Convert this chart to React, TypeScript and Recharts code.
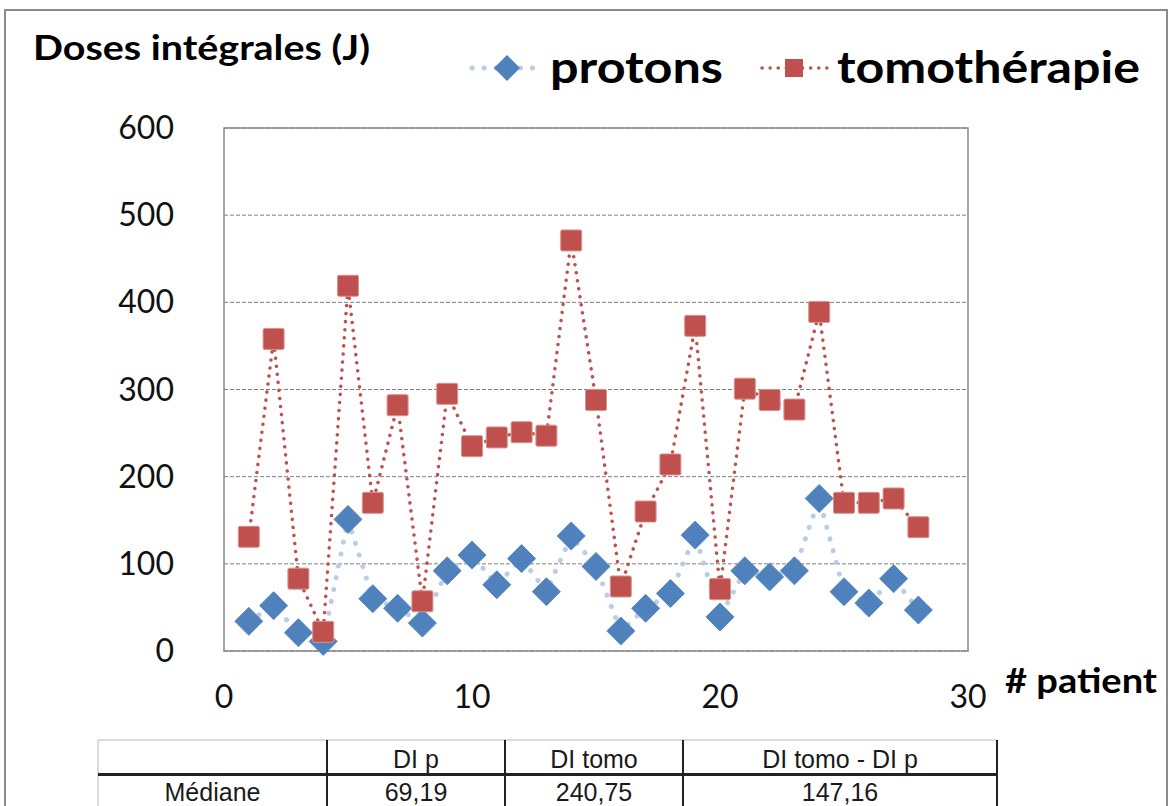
import React from "react";
import {
  LineChart,
  Line,
  XAxis,
  YAxis,
  CartesianGrid,
  ReferenceArea,
  Legend,
} from "recharts";

const patients = [
  1, 2, 3, 4, 5, 6, 7, 8, 9, 10, 11, 12, 13, 14, 15, 16, 17, 18, 19, 20, 21,
  22, 23, 24, 25, 26, 27, 28,
];
const protons = [
  34, 52, 21, 11, 151, 60, 49, 32, 92, 110, 76, 106, 68, 132, 97, 23, 49, 66,
  133, 39, 92, 85, 92, 175, 68, 55, 83, 47,
];
const tomo = [
  131, 358, 83, 22, 419, 170, 282, 57, 295, 235, 245, 251, 247, 471, 288, 74,
  160, 214, 373, 71, 301, 288, 277, 389, 170, 170, 175, 142,
];
const xTicks = [0, 10, 20, 30];
const yTicks = [0, 100, 200, 300, 400, 500, 600];

const tableHeader = ["", "DI p", "DI tomo", "DI tomo - DI p"];
const tableRow = ["Médiane", "69,19", "240,75", "147,16"];

const data = patients.map((p, i) => ({
  patient: p,
  protons: protons[i],
  tomo: tomo[i],
}));

const BLUE = "#4F81BD";
const BLUE_LINE = "#B9CDE8";
const RED = "#C0504D";

const diamond = (cx: number, cy: number, r: number) =>
  `M${cx},${cy - r}L${cx + r},${cy}L${cx},${cy + r}L${cx - r},${cy}Z`;

const DiamondDot = (p: any) => (
  <path key={`d${p.index}`} d={diamond(p.cx, p.cy, 14)} fill={BLUE} stroke="#5B8AC2" strokeWidth={1} />
);

const SquareDot = (p: any) => (
  <rect
    key={`s${p.index}`}
    x={p.cx - 10.5}
    y={p.cy - 10.5}
    width={21}
    height={21}
    rx={1.5}
    fill={RED}
    stroke="#D9918F"
    strokeWidth={1}
  />
);

const XTick = ({ x, y, payload }: any) => (
  <text x={x} y={y} dy={49} textAnchor="middle" fontFamily="Lato" fontSize={32} fill="#111">
    {payload.value}
  </text>
);

const YTick = ({ x, y, payload }: any) => (
  <text x={x} y={y} dx={-42} dy={11} textAnchor="end" fontFamily="Lato" fontSize={32} fill="#111">
    {payload.value}
  </text>
);

const LegendContent = () => (
  <svg width={700} height={60}>
    <line x1={12} y1={28} x2={84} y2={28} stroke={BLUE_LINE} strokeWidth={5} strokeDasharray="0.1 12" strokeLinecap="round" />
    <path d={diamond(47, 28, 13)} fill={BLUE} />
    <text x={90} y={43} fontFamily="Lato" fontWeight="bold" fontSize={44} textLength={173} lengthAdjust="spacingAndGlyphs" fill="#000">
      protons
    </text>
    <line x1={302} y1={28} x2={368} y2={28} stroke={RED} strokeWidth={3.5} strokeDasharray="0.1 8" strokeLinecap="round" />
    <rect x={325} y={19} width={18} height={18} fill={RED} />
    <text x={377} y={43} fontFamily="Lato" fontWeight="bold" fontSize={44} textLength={303} lengthAdjust="spacingAndGlyphs" fill="#000">
      tomothérapie
    </text>
  </svg>
);

const colEdges = [98, 327, 505, 683, 997];

export default function App() {
  return (
    <div style={{ position: "fixed", top: 0, left: 0, width: 1171, height: 806, background: "#fff", overflow: "hidden" }}>
      <LineChart width={1171} height={806} data={data} margin={{ top: 128, right: 203, bottom: 95, left: 0 }}>
        <CartesianGrid vertical={false} stroke="#7f7f7f" strokeDasharray="4 2" />
        <XAxis
          dataKey="patient"
          type="number"
          domain={[0, 30]}
          ticks={xTicks}
          axisLine={false}
          tickLine={false}
          height={60}
          tick={<XTick />}
        />
        <YAxis domain={[0, 600]} ticks={yTicks} axisLine={false} tickLine={false} width={224} tick={<YTick />} />
        <ReferenceArea x1={0} x2={30} y1={0} y2={600} fill="none" stroke="#868686" strokeWidth={1.5} />
        <Legend
          verticalAlign="middle"
          align="center"
          content={<LegendContent />}
          wrapperStyle={{ position: "absolute", top: 40, left: 460, width: 700, height: 60 }}
        />
        <Line
          type="linear"
          dataKey="protons"
          stroke={BLUE_LINE}
          strokeWidth={5}
          strokeDasharray="0.1 12"
          strokeLinecap="round"
          dot={DiamondDot}
          activeDot={false}
          isAnimationActive={false}
        />
        <Line
          type="linear"
          dataKey="tomo"
          stroke={RED}
          strokeWidth={3.5}
          strokeDasharray="0.1 8"
          strokeLinecap="round"
          dot={SquareDot}
          activeDot={false}
          isAnimationActive={false}
        />
      </LineChart>
      <svg width={1171} height={806} style={{ position: "absolute", top: 0, left: 0, pointerEvents: "none" }}>
        <rect x={5} y={10} width={1162} height={830} fill="none" stroke="#8c8c8c" strokeWidth={2} />
        <text x={33} y={60} fontFamily="Lato" fontWeight="bold" fontSize={34} textLength={337} lengthAdjust="spacingAndGlyphs" fill="#000">
          Doses intégrales (J)
        </text>
        <text x={1005} y={693} fontFamily="Lato" fontWeight="bold" fontSize={34} textLength={152} lengthAdjust="spacingAndGlyphs" fill="#000">
          # patient
        </text>
        {/* table */}
        <line x1={98} y1={740} x2={997} y2={740} stroke="#c9d1de" strokeWidth={1.5} />
        <line x1={98} y1={740} x2={98} y2={806} stroke="#c9d1de" strokeWidth={1.5} />
        <line x1={98} y1={774.5} x2={997} y2={774.5} stroke="#222" strokeWidth={3} />
        {colEdges.slice(1).map((cx) => (
          <line key={cx} x1={cx} y1={740} x2={cx} y2={806} stroke="#222" strokeWidth={2} />
        ))}
        {tableHeader.map((t, i) => (
          <text key={`h${i}`} x={(colEdges[i] + colEdges[i + 1]) / 2} y={768} textAnchor="middle" fontFamily="Liberation Sans" fontSize={25} fill="#1a1a1a">
            {t}
          </text>
        ))}
        {tableRow.map((t, i) => (
          <text key={`r${i}`} x={(colEdges[i] + colEdges[i + 1]) / 2} y={801} textAnchor="middle" fontFamily="Liberation Sans" fontSize={25} fill="#1a1a1a">
            {t}
          </text>
        ))}
      </svg>
    </div>
  );
}
